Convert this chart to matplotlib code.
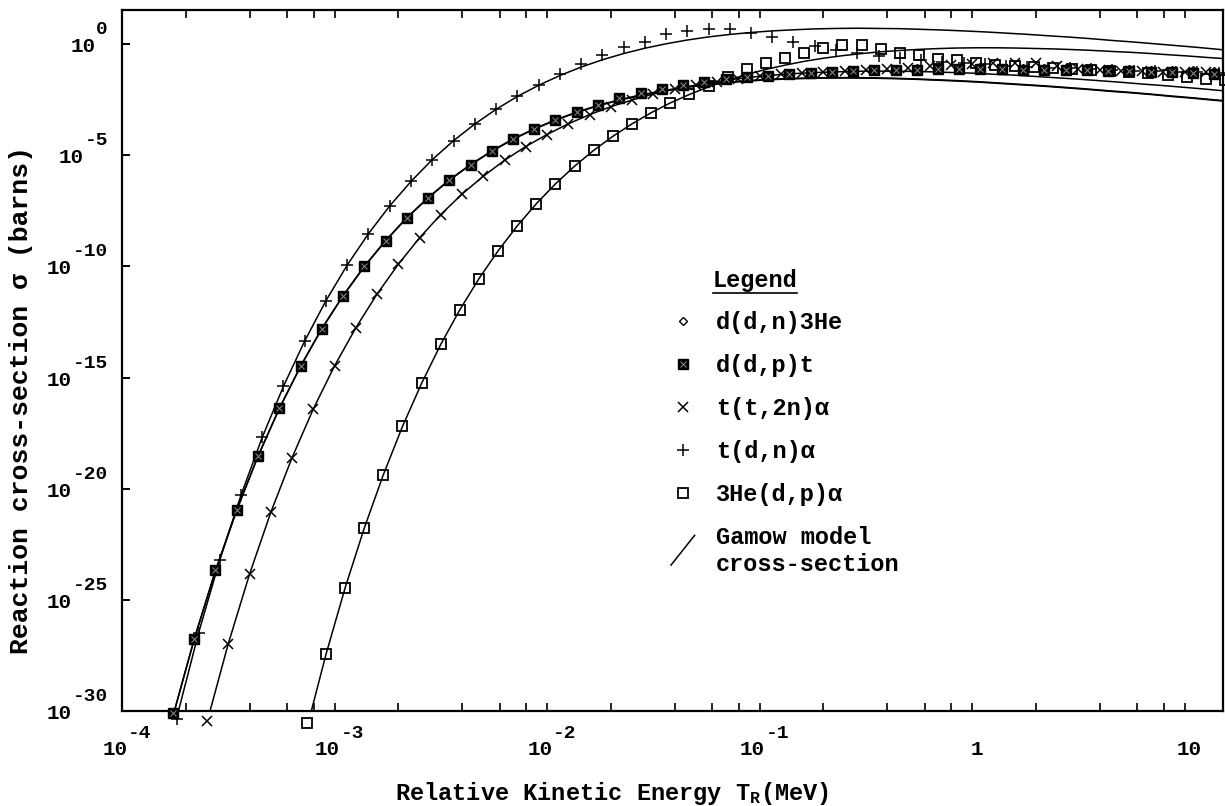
import numpy as np
import matplotlib
matplotlib.use("Agg")
import matplotlib.pyplot as plt
from matplotlib.lines import Line2D
from matplotlib.legend_handler import HandlerBase
from matplotlib.ticker import FixedLocator, NullFormatter

plt.rcParams['font.family'] = ['Liberation Mono', 'DejaVu Sans Mono', 'DejaVu Sans']
plt.rcParams['font.weight'] = 'bold'
plt.rcParams['mathtext.fontset'] = 'custom'
plt.rcParams['mathtext.rm'] = 'Liberation Mono:bold'
plt.rcParams['mathtext.it'] = 'Liberation Mono:bold'
plt.rcParams['mathtext.bf'] = 'Liberation Mono:bold'

# ---------------- data (energies in MeV, cross-sections as log10(barns)) ----------------
dd_E = [1.738e-4, 2.188e-4, 2.754e-4, 3.467e-4, 4.365e-4, 5.495e-4, 6.918e-4, 8.710e-4,
        1.096e-3, 1.380e-3, 1.738e-3, 2.188e-3, 2.754e-3, 3.467e-3, 4.365e-3, 5.495e-3, 6.918e-3, 8.710e-3,
        1.096e-2, 1.380e-2, 1.738e-2, 2.188e-2, 2.754e-2, 3.467e-2, 4.365e-2, 5.495e-2, 6.918e-2, 8.710e-2,
        0.1096, 0.1380, 0.1738, 0.2188, 0.2754, 0.3467, 0.4365, 0.5495, 0.6918, 0.8710,
        1.096, 1.380, 1.738, 2.188, 2.754, 3.467, 4.365, 5.495, 6.918, 8.710,
        10.96, 13.80, 17.38]
ddp_gamow = [-30.21, -26.75, -23.68, -20.95, -18.53, -16.39, -14.49, -12.80, -11.32, -10.00,
             -8.84, -7.81, -6.91, -6.11, -5.42, -4.81, -4.27, -3.81, -3.41, -3.06,
             -2.76, -2.51, -2.29, -2.11, -1.95, -1.83, -1.73, -1.65, -1.59, -1.55,
             -1.525, -1.51, -1.51, -1.52, -1.54, -1.57, -1.61, -1.65, -1.70, -1.76,
             -1.82, -1.88, -1.95, -2.02, -2.10, -2.17, -2.25, -2.34, -2.42, -2.51, -2.59]
ddn_gamow = [-30.23, -26.77, -23.70, -20.97, -18.55, -16.41, -14.51, -12.82, -11.34, -10.02,
             -8.86, -7.83, -6.93, -6.13, -5.44, -4.83, -4.29, -3.83, -3.43, -3.08,
             -2.78, -2.53, -2.31, -2.13, -1.97, -1.85, -1.75, -1.67, -1.61, -1.57,
             -1.545, -1.53, -1.53, -1.54, -1.56, -1.59, -1.63, -1.67, -1.72, -1.78,
             -1.84, -1.90, -1.97, -2.04, -2.12, -2.19, -2.27, -2.36, -2.44, -2.53, -2.61]
ddp_data = [-30.08, -26.75, -23.68, -20.95, -18.53, -16.39, -14.49, -12.80, -11.32, -10.00,
            -8.84, -7.81, -6.91, -6.11, -5.42, -4.81, -4.27, -3.81, -3.41, -3.06,
            -2.76, -2.45, -2.22, -2.03, -1.85, -1.70, -1.58, -1.50, -1.43, -1.35,
            -1.29, -1.24, -1.20, -1.18, -1.16, -1.15, -1.14, -1.14, -1.14, -1.14,
            -1.15, -1.16, -1.17, -1.18, -1.20, -1.22, -1.25, -1.28, -1.30, -1.33]
ddn_data = [-30.08, -26.75, -23.68, -20.95, -18.53, -16.39, -14.49, -12.80, -11.32, -10.00,
            -8.84, -7.81, -6.91, -6.11, -5.42, -4.81, -4.27, -3.81, -3.41, -3.06,
            -2.76, -2.45, -2.22, -2.00, -1.81, -1.66, -1.54, -1.45, -1.38, -1.31,
            -1.25, -1.20, -1.16, -1.13, -1.11, -1.10, -1.09, -1.08, -1.08, -1.08,
            -1.08, -1.09, -1.10, -1.11, -1.12, -1.13, -1.15, -1.17, -1.19, -1.21]

tt_E = [2.512e-4, 3.162e-4, 3.981e-4, 5.012e-4, 6.310e-4, 7.943e-4,
        1.000e-3, 1.259e-3, 1.585e-3, 1.995e-3, 2.512e-3, 3.162e-3, 3.981e-3, 5.012e-3, 6.310e-3, 7.943e-3,
        1.000e-2, 1.259e-2, 1.585e-2, 1.995e-2, 2.512e-2, 3.162e-2, 3.981e-2, 5.012e-2, 6.310e-2, 7.943e-2,
        0.1000, 0.1259, 0.1585, 0.1995, 0.2512, 0.3162, 0.3981, 0.5012, 0.6310, 0.7943,
        1.000, 1.259, 1.585, 1.995, 2.512, 3.162, 3.981, 5.012, 6.310, 7.943,
        10.00, 12.59, 15.85]
tt_gamow = [-30.50, -26.98, -23.85, -21.07, -18.61, -16.42, -14.48, -12.77, -11.25, -9.91,
            -8.72, -7.67, -6.75, -5.95, -5.23, -4.61, -4.07, -3.59, -3.18, -2.82,
            -2.52, -2.25, -2.03, -1.85, -1.69, -1.56, -1.45, -1.37, -1.31, -1.27,
            -1.24, -1.22, -1.22, -1.23, -1.25, -1.28, -1.31, -1.36, -1.40, -1.46,
            -1.52, -1.58, -1.65, -1.72, -1.80, -1.87, -1.95, -2.03, -2.12]
tt_data = [-30.45, -26.98, -23.85, -21.07, -18.61, -16.42, -14.48, -12.77, -11.25, -9.91,
           -8.72, -7.67, -6.75, -5.95, -5.23, -4.61, -4.07, -3.59, -3.18, -2.82,
           -2.52, -2.25, -2.03, -1.85, -1.69, -1.56, -1.45, -1.37, -1.31, -1.26,
           -1.20, -1.16, -1.13, -1.08, -1.00, -0.94, -0.88, -0.85, -0.84, -0.85,
           -0.98, -1.12, -1.17, -1.20, -1.22, -1.24, -1.26, -1.28]

dt_E = [1.820e-4, 2.291e-4, 2.884e-4, 3.631e-4, 4.571e-4, 5.754e-4, 7.244e-4, 9.120e-4,
        1.148e-3, 1.445e-3, 1.820e-3, 2.291e-3, 2.884e-3, 3.631e-3, 4.571e-3, 5.754e-3, 7.244e-3, 9.120e-3,
        1.148e-2, 1.445e-2, 1.820e-2, 2.291e-2, 2.884e-2, 3.631e-2, 4.571e-2, 5.754e-2, 7.244e-2, 9.120e-2,
        0.1148, 0.1445, 0.1820, 0.2291, 0.2884, 0.3631, 0.4571, 0.5754, 0.7244, 0.9120,
        1.148, 1.445, 1.820, 2.291, 2.884, 3.631, 4.571, 5.754, 7.244, 9.120,
        11.48, 14.45, 18.20]
dt_gamow = [-30.21, -26.50, -23.21, -20.29, -17.69, -15.39, -13.35, -11.54, -9.94, -8.53,
            -7.28, -6.18, -5.20, -4.35, -3.60, -2.94, -2.36, -1.86, -1.42, -1.04,
            -0.71, -0.43, -0.19, 0.01, 0.18, 0.32, 0.43, 0.52, 0.59, 0.64,
            0.68, 0.70, 0.71, 0.70, 0.69, 0.66, 0.63, 0.59, 0.545, 0.49,
            0.435, 0.37, 0.31, 0.24, 0.16, 0.09, 0.01, -0.07, -0.15, -0.24, -0.33]
dt_data = [-30.35, -26.50, -23.21, -20.29, -17.69, -15.39, -13.35, -11.54, -9.94, -8.53,
           -7.28, -6.18, -5.20, -4.35, -3.60, -2.94, -2.36, -1.86, -1.35, -0.90,
           -0.48, -0.12, 0.10, 0.45, 0.58, 0.66, 0.66, 0.50, 0.30, 0.10,
           -0.08, -0.27, -0.42, -0.54, -0.64, -0.72, -0.80, -0.86, -0.92, -0.97,
           -1.02, -1.06, -1.10, -1.14, -1.17, -1.20, -1.23, -1.26, -1.28, -1.30]

he3_E = [7.413e-4, 9.120e-4, 1.122e-3, 1.380e-3, 1.698e-3, 2.089e-3, 2.570e-3, 3.162e-3, 3.890e-3,
         4.786e-3, 5.888e-3, 7.244e-3, 8.913e-3, 1.096e-2, 1.349e-2, 1.660e-2, 2.042e-2, 2.512e-2,
         3.090e-2, 3.802e-2, 4.677e-2, 5.754e-2, 7.079e-2, 8.710e-2, 0.1072, 0.1318, 0.1622, 0.1995,
         0.2455, 0.3020, 0.3715, 0.4571, 0.5623, 0.6918, 0.8511, 1.047, 1.288, 1.585, 1.950,
         2.399, 2.951, 3.631, 4.467, 5.495, 6.761, 8.318, 10.23, 12.59, 15.49]
he3_gamow = [-30.77, -27.45, -24.46, -21.78, -19.37, -17.20, -15.26, -13.51, -11.95, -10.55,
             -9.30, -8.18, -7.18, -6.29, -5.49, -4.78, -4.15, -3.59, -3.09, -2.65,
             -2.27, -1.93, -1.63, -1.37, -1.14, -0.95, -0.78, -0.64, -0.525, -0.43,
             -0.35, -0.29, -0.24, -0.205, -0.18, -0.17, -0.17, -0.18, -0.20, -0.22,
             -0.25, -0.285, -0.33, -0.37, -0.42, -0.48, -0.535, -0.60, -0.66]
he3_data = [-30.55, -27.45, -24.46, -21.78, -19.37, -17.20, -15.26, -13.51, -11.95, -10.55,
            -9.30, -8.18, -7.18, -6.29, -5.49, -4.78, -4.15, -3.59, -3.09, -2.65,
            -2.27, -1.88, -1.50, -1.12, -0.87, -0.64, -0.42, -0.20, -0.06, -0.05,
            -0.22, -0.40, -0.50, -0.68, -0.74, -0.86, -0.93, -1.00, -1.05, -1.10,
            -1.14, -1.18, -1.22, -1.27, -1.32, -1.40, -1.48, -1.57, -1.63]

labels = ["d(d,n)3He", "d(d,p)t", "t(t,2n)\u03b1", "t(d,n)\u03b1", "3He(d,p)\u03b1",
          "Gamow model\ncross-section"]
x_major = [1e-4, 1e-3, 1e-2, 1e-1, 1.0, 10.0]
x_label_base = ["10", "10", "10", "10", "1", "10"]
x_label_exp = ["-4", "-3", "-2", "-1", "", ""]
y_major = [1e0, 1e-5, 1e-10, 1e-15, 1e-20, 1e-25, 1e-30]
y_label_exp = ["0", "-5", "-10", "-15", "-20", "-25", "-30"]

# ---------------- figure ----------------
W, H = 1225, 806
fig = plt.figure(figsize=(W / 100, H / 100), dpi=100)
L, R, T, B = 122, 1223, 10, 711
ax = fig.add_axes([L / W, 1 - B / H, (R - L) / W, (B - T) / H])
ax.set_xscale('log')
ax.set_yscale('log')
ax.set_xlim(1e-4, 10 ** 1.181)
ax.set_ylim(1e-30, 10 ** 1.53)

def p(v):
    return 10 ** np.asarray(v, dtype=float)

lw = 1.1
# Gamow model lines
ax.plot(dd_E, p(ddn_gamow), color='black', lw=lw, zorder=2)
ax.plot(dd_E, p(ddp_gamow), color='black', lw=lw, zorder=2)
ax.plot(tt_E, p(tt_gamow), color='black', lw=lw, zorder=2)
ax.plot(dt_E, p(dt_gamow), color='black', lw=lw, zorder=2)
ax.plot(he3_E, p(he3_gamow), color='black', lw=lw, zorder=2)

# data markers
mk_ddn = dict(ls='none', marker='D', ms=4.5, mfc='white', mec='black', mew=1.0)
mk_ddp = dict(ls='none', marker='s', ms=6.5, mfc='black', mec='black', mew=1.0)
mk_ddp_x = dict(ls='none', marker='x', ms=4.0, mec='#909090', mew=0.7)
mk_tt = dict(ls='none', marker='x', ms=7.0, mec='black', mew=1.1)
mk_dt = dict(ls='none', marker='+', ms=8.5, mec='black', mew=1.1)
mk_he3 = dict(ls='none', marker='s', ms=6.5, mfc='none', mec='black', mew=1.3)

ax.plot(dd_E[:len(ddn_data)], p(ddn_data), clip_on=False, zorder=3, **mk_ddn)
ax.plot(dd_E[:len(ddp_data)], p(ddp_data), clip_on=False, zorder=4, **mk_ddp)
ax.plot(dd_E[:len(ddp_data)], p(ddp_data), clip_on=False, zorder=5, **mk_ddp_x)
ax.plot(tt_E[:len(tt_data)], p(tt_data), clip_on=False, zorder=4, **mk_tt)
ax.plot(dt_E[:len(dt_data)], p(dt_data), clip_on=False, zorder=4, **mk_dt)
ax.plot(he3_E[:len(he3_data)], p(he3_data), clip_on=False, zorder=4, **mk_he3)

# ---------------- axes styling ----------------
for s in ax.spines.values():
    s.set_linewidth(1.6)
ax.xaxis.set_major_locator(FixedLocator(x_major))
ax.xaxis.set_major_formatter(NullFormatter())
minor = [m * d for d in [1e-4, 1e-3, 1e-2, 1e-1, 1.0, 10.0] for m in (2, 4, 6, 8)]
ax.xaxis.set_minor_locator(FixedLocator(minor))
ax.xaxis.set_minor_formatter(NullFormatter())
ax.yaxis.set_major_locator(FixedLocator(y_major))
ax.yaxis.set_major_formatter(NullFormatter())
ax.yaxis.set_minor_locator(FixedLocator([]))
ax.tick_params(axis='x', which='both', direction='in', top=True, bottom=True,
               length=6, width=1.2)
ax.tick_params(axis='y', which='both', direction='in', left=True, right=False,
               length=6, width=1.4)

# tick labels: "10" with a raised exponent, Courier-like bold
base_fs, exp_fs = 15, 14
for xv, b, e in zip(x_major, x_label_base, x_label_exp):
    kw = dict(xy=(xv, 0), xycoords=('data', 'axes fraction'), textcoords='offset pixels',
              va='baseline', fontweight='bold', annotation_clip=False)
    if e:
        ax.annotate(b, xytext=(5.5, -44), ha='right', fontsize=base_fs, **kw)
        ax.annotate(e, xytext=(6.0, -27), ha='left', fontsize=exp_fs, **kw)
    else:
        ax.annotate(b, xytext=(5, -44), ha='center', fontsize=base_fs, **kw)

fig.canvas.draw()
renderer = fig.canvas.get_renderer()
for yv, e in zip(y_major, y_label_exp):
    kw = dict(xy=(0, yv), xycoords=('axes fraction', 'data'), textcoords='offset pixels',
              va='baseline', fontweight='bold', annotation_clip=False)
    et = ax.annotate(e, xytext=(-14, 10), ha='right', fontsize=exp_fs, **kw)
    w = et.get_window_extent(renderer).width
    ax.annotate("10", xytext=(-14 - w - 1, -8), ha='right', fontsize=base_fs, **kw)

ax.set_xlabel("Relative Kinetic Energy T$_{R}$(MeV)", fontsize=17, fontweight='bold')
ax.xaxis.set_label_coords((612 - L) / (R - L), (B - 780) / (B - T))
ax.set_ylabel("Reaction cross-section \u03c3 (barns)", fontsize=19, fontweight='bold')
ax.yaxis.set_label_coords((33 - L) / (R - L), (B - 400) / (B - T))

# ---------------- legend ----------------
class SlashHandler(HandlerBase):
    def create_artists(self, legend, orig_handle, xdescent, ydescent, width, height, fontsize, trans):
        ln = Line2D([-xdescent, -xdescent + width], [-ydescent - 0.3 * height, -ydescent + 1.5 * height],
                    color='black', lw=1.1)
        ln.set_transform(trans)
        return [ln]

class Slash:
    pass

h_ddn = Line2D([], [], **mk_ddn)
h_ddp = (Line2D([], [], **mk_ddp), Line2D([], [], **mk_ddp_x))
h_tt = Line2D([], [], **mk_tt)
h_dt = Line2D([], [], **mk_dt)
h_he3 = Line2D([], [], **mk_he3)
slash = Slash()
leg = ax.legend([h_ddn, h_ddp, h_tt, h_dt, h_he3, slash], labels,
                handler_map={Slash: SlashHandler()},
                loc='upper left', bbox_to_anchor=((671 - L) / (R - L), (B - 311) / (B - T)),
                frameon=False, fontsize=17, borderpad=0, borderaxespad=0,
                handlelength=1.0, handletextpad=0.9, labelspacing=0.85)
for t in leg.get_texts():
    t.set_fontweight('bold')

title = ax.text((755 - L) / (R - L), (B - 280) / (B - T), "Legend", transform=ax.transAxes,
                ha='center', va='center', fontsize=17, fontweight='bold')
fig.canvas.draw()
bb = title.get_window_extent()
fig.add_artist(Line2D([bb.x0 / W, bb.x1 / W], [(bb.y0 - 1) / H, (bb.y0 - 1) / H],
                      color='black', lw=1.2, transform=fig.transFigure))

fig.savefig("out.png", dpi=100)
